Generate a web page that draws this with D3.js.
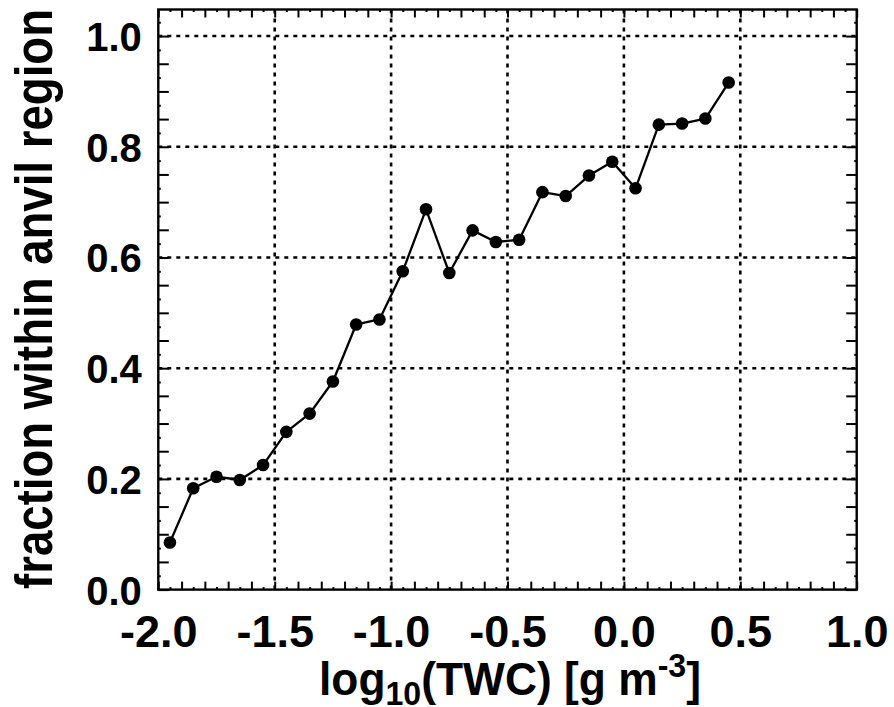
<!DOCTYPE html>
<html>
<head>
<meta charset="utf-8">
<script src="https://cdn.jsdelivr.net/npm/d3@7"></script>
<style>
  html, body { margin: 0; padding: 0; background: #fff; }
  text { font-family: "Liberation Sans", Arial, Helvetica, sans-serif; font-weight: bold; fill: #000; }
</style>
</head>
<body>
<svg id="chart" width="894" height="707"></svg>
<script>
// ---- data ----
const logTWC = [-1.95, -1.85, -1.75, -1.65, -1.55, -1.45, -1.35, -1.25, -1.15, -1.05,
                -0.95, -0.85, -0.75, -0.65, -0.55, -0.45, -0.35, -0.25, -0.15, -0.05,
                 0.05,  0.15,  0.25,  0.35,  0.45];
const fraction = [0.085, 0.183, 0.204, 0.198, 0.225, 0.285, 0.318, 0.376, 0.479, 0.488,
                  0.575, 0.687, 0.572, 0.649, 0.628, 0.632, 0.718, 0.711, 0.748, 0.773,
                  0.725, 0.840, 0.842, 0.851, 0.916];
const xTickValues = [-2.0, -1.5, -1.0, -0.5, 0.0, 0.5, 1.0];
const xTickLabels = ["-2.0", "-1.5", "-1.0", "-0.5", "0.0", "0.5", "1.0"];
const yTickValues = [0.0, 0.2, 0.4, 0.6, 0.8, 1.0];
const yTickLabels = ["0.0", "0.2", "0.4", "0.6", "0.8", "1.0"];
const xDomain = [-2.0, 1.0];
const yDomain = [0.0, 1.048];

// ---- layout ----
const svg = d3.select("#chart");
const L = 158.3, R = 856.7, T = 9.5, B = 589.6;
const x = d3.scaleLinear().domain(xDomain).range([L, R]);
const y = d3.scaleLinear().domain(yDomain).range([B, T]);

svg.append("rect").attr("width", 894).attr("height", 707).attr("fill", "#fff");

// grid lines
const grid = svg.append("g");
grid.selectAll("line.gx").data(xTickValues.filter(v => v > xDomain[0] && v < xDomain[1]))
  .enter().append("line")
  .attr("x1", d => x(d)).attr("x2", d => x(d))
  .attr("y1", B).attr("y2", T)
  .attr("stroke", "#000").attr("stroke-width", 2.6).attr("stroke-dasharray", "4,5");
grid.selectAll("line.gy").data(yTickValues.filter(v => v > 0))
  .enter().append("line")
  .attr("y1", d => y(d)).attr("y2", d => y(d))
  .attr("x1", L).attr("x2", R)
  .attr("stroke", "#000").attr("stroke-width", 2.6).attr("stroke-dasharray", "4,5");

// ticks via d3 axes (inward)
const xMinor = d3.range(-20, 11).map(i => i / 10);
const xTiny = d3.range(-20, 10).map(i => i / 10 + 0.05);
const yMinor = d3.range(0, 21).map(i => i * 0.05);
const yTiny = d3.range(0, 21).map(i => i * 0.05 + 0.025);

function tickAxis(axisFn, scale, vals, len, transform) {
  const g = svg.append("g").attr("transform", transform)
    .call(axisFn(scale).tickValues(vals).tickSize(-len).tickFormat(""));
  g.select(".domain").remove();
  g.selectAll(".tick line").attr("stroke", "#000").attr("stroke-width", 2);
  return g;
}
tickAxis(d3.axisBottom, x, xMinor, 8, `translate(0,${B})`);
tickAxis(d3.axisTop, x, xMinor, 8, `translate(0,${T})`);
tickAxis(d3.axisBottom, x, xTiny, 2.5, `translate(0,${B})`);
tickAxis(d3.axisTop, x, xTiny, 2.5, `translate(0,${T})`);
tickAxis(d3.axisLeft, y, yMinor, 10.5, `translate(${L},0)`);
tickAxis(d3.axisRight, y, yMinor, 10.5, `translate(${R},0)`);
tickAxis(d3.axisLeft, y, yTiny, 2.5, `translate(${L},0)`);
tickAxis(d3.axisRight, y, yTiny, 2.5, `translate(${R},0)`);

// frame
svg.append("rect").attr("x", L).attr("y", T).attr("width", R - L).attr("height", B - T)
  .attr("fill", "none").attr("stroke", "#000").attr("stroke-width", 2.4);

// tick labels
const xLab = d3.axisBottom(x).tickValues(xTickValues).tickSize(0)
  .tickFormat((d, i) => xTickLabels[i]);
const gxl = svg.append("g").attr("transform", `translate(0,${B})`).call(xLab);
gxl.select(".domain").remove();
gxl.selectAll("text").attr("font-size", 45).attr("dy", null).attr("y", 57.5)
  .style("font-family", '"Liberation Sans", Arial, sans-serif').style("font-weight", "bold");

const yLab = d3.axisLeft(y).tickValues(yTickValues).tickSize(0)
  .tickFormat((d, i) => yTickLabels[i]);
const gyl = svg.append("g").attr("transform", `translate(${L},0)`).call(yLab);
gyl.select(".domain").remove();
gyl.selectAll("text").attr("font-size", 40).attr("x", -16.5).attr("dy", "0.36em")
  .style("font-family", '"Liberation Sans", Arial, sans-serif').style("font-weight", "bold");

// data line and markers
const line = d3.line().x((d, i) => x(logTWC[i])).y(d => y(d));
svg.append("path").datum(fraction).attr("d", line)
  .attr("fill", "none").attr("stroke", "#000").attr("stroke-width", 2.3).attr("stroke-linejoin", "round");
svg.selectAll("circle.pt").data(fraction).enter().append("circle")
  .attr("cx", (d, i) => x(logTWC[i])).attr("cy", d => y(d)).attr("r", 6.3).attr("fill", "#000");

// axis titles
const xt = svg.append("text").attr("x", 319).attr("y", 695).attr("font-size", 47)
  .attr("textLength", 382).attr("lengthAdjust", "spacingAndGlyphs");
xt.append("tspan").text("log");
xt.append("tspan").attr("font-size", 34).attr("dy", 10).text("10");
xt.append("tspan").attr("dy", -10).text("(TWC) [g m");
xt.append("tspan").attr("font-size", 34).attr("dy", -18).text("-3");
xt.append("tspan").attr("dy", 18).text("]");

svg.append("text")
  .attr("transform", "translate(52,299) rotate(-90)")
  .attr("text-anchor", "middle")
  .attr("font-size", 51)
  .attr("textLength", 580).attr("lengthAdjust", "spacingAndGlyphs")
  .text("fraction within anvil region");
</script>
</body>
</html>
